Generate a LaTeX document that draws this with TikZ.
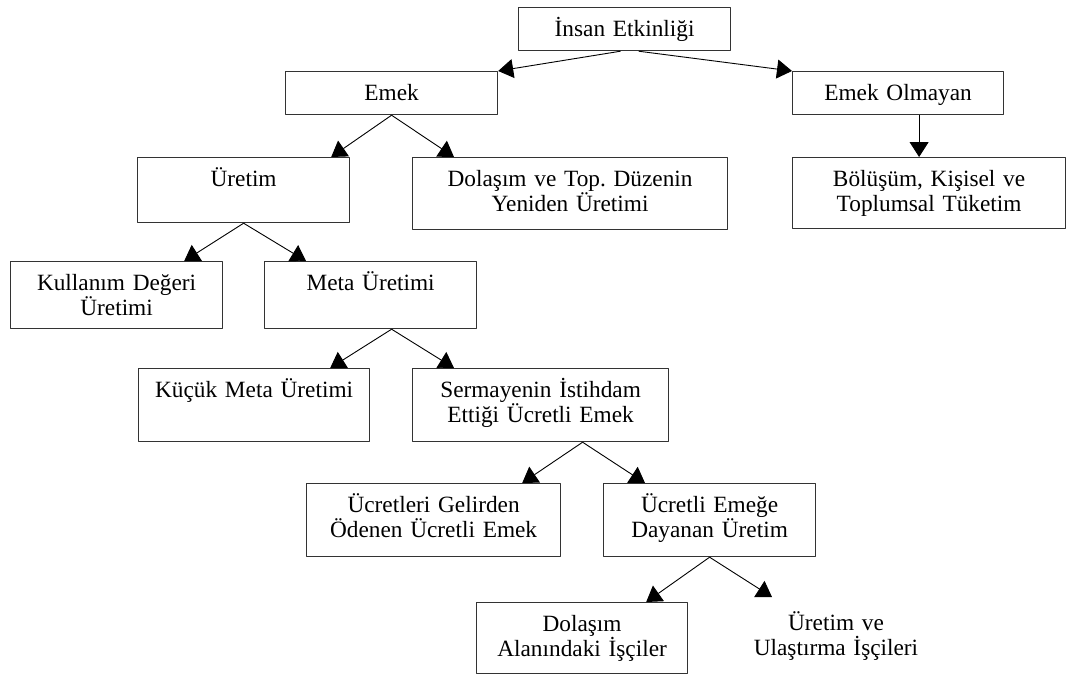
\documentclass[tikz,border=0pt]{standalone}
\usepackage{fontspec}
\setmainfont{Liberation Serif}
\usetikzlibrary{arrows.meta}

\begin{document}
\begin{tikzpicture}[x=1pt,y=-1pt,>={Triangle[width=19pt,length=15pt]},line join=round,
  kutu/.style={draw=black!80,line width=1.2pt,anchor=north west,align=center,inner sep=0pt,
    text height=29pt,font=\fontsize{23.3}{25}\selectfont},
  ok/.style={->,line width=0.9pt}]
  \useasboundingbox (0,0) rectangle (1069,675);
  \node[kutu,text width=212pt,text depth=14pt] (insan) at (518,7) {İnsan Etkinliği};
  \node[kutu,text width=212pt,text depth=14pt] (emek) at (285,71) {Emek};
  \node[kutu,text width=211pt,text depth=14pt] (emekol) at (792,71) {Emek Olmayan};
  \node[kutu,text width=212pt,text depth=36pt] (uretim) at (137,157) {Üretim};
  \node[kutu,text width=315pt,text depth=43pt] (dolasim) at (412,157) {Dolaşım ve Top.\ Düzenin\\Yeniden Üretimi};
  \node[kutu,text width=273pt,text depth=42pt] (bolusum) at (792,157) {Bölüşüm, Kişisel ve\\Toplumsal Tüketim};
  \node[kutu,text width=212pt,text depth=38pt] (kullanim) at (10,261) {Kullanım Değeri\\Üretimi};
  \node[kutu,text width=212pt,text depth=38pt] (meta) at (264,261) {Meta Üretimi};
  \node[kutu,text width=231pt,text depth=44pt] (kucuk) at (138,368) {Küçük Meta Üretimi};
  \node[kutu,text width=256pt,text depth=44pt] (sermaye) at (412,368) {Sermayenin İstihdam\\Ettiği Ücretli Emek};
  \node[kutu,text width=254pt,text depth=44pt] (ucretleri) at (306,483) {Ücretleri Gelirden\\Ödenen Ücretli Emek};
  \node[kutu,text width=212pt,text depth=44pt] (ucretli) at (603,483) {Ücretli Emeğe\\Dayanan Üretim};
  \node[kutu,text width=211pt,text depth=42pt] (dolasimal) at (476,602) {Dolaşım\\Alanındaki İşçiler};
  \node[kutu,draw=none,anchor=north,text width=200pt,text depth=40pt] (uretimve) at (836,601) {Üretim ve\\Ulaştırma İşçileri};
  \coordinate (uvtip) at (772,597);
  \draw[ok] ([xshift=-4pt]insan.south) -- (emek.north east);
  \draw[ok] ([xshift=14pt]insan.south) -- (emekol.north west);
  \draw[ok] ([xshift=21pt]emekol.south) -- ([xshift=21pt]emekol.south |- bolusum.north);
  \draw[ok] (emek.south) -- ([xshift=-19pt]uretim.north east);
  \draw[ok] (emek.south) -- ([xshift=42pt]dolasim.north west);
  \draw[ok] (uretim.south) -- ([xshift=-39pt]kullanim.north east);
  \draw[ok] (uretim.south) -- ([xshift=42pt]meta.north west);
  \draw[ok] ([xshift=21pt]meta.south) -- ([xshift=-40pt]kucuk.north east);
  \draw[ok] ([xshift=21pt]meta.south) -- ([xshift=42pt]sermaye.north west);
  \draw[ok] ([xshift=42pt]sermaye.south) -- ([xshift=-39pt]ucretleri.north east);
  \draw[ok] ([xshift=42pt]sermaye.south) -- ([xshift=42pt]ucretli.north west);
  \draw[ok] (ucretli.south) -- ([xshift=-42pt]dolasimal.north east);
  \draw[ok] (ucretli.south) -- (uvtip);
\end{tikzpicture}
\end{document}
